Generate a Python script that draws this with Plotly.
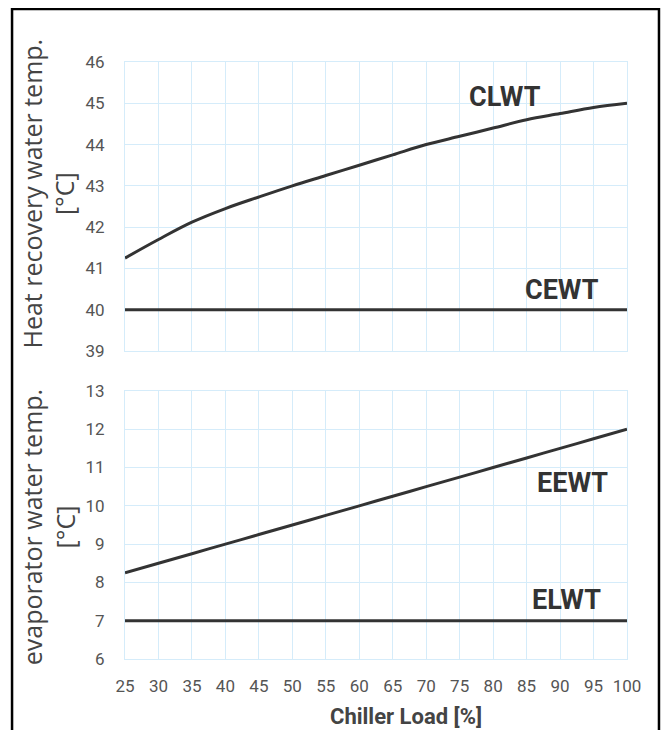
import plotly.graph_objects as go

# Chiller load [%]
load = [25, 30, 35, 40, 45, 50, 55, 60, 65, 70, 75, 80, 85, 90, 95, 100]

# heat recovery water temperatures [°C]
clwt = [41.25, 41.7, 42.12, 42.45, 42.73, 43.0, 43.25, 43.5, 43.75, 44.0, 44.2, 44.4, 44.6, 44.75, 44.9, 45.0]
cewt = [40] * len(load)

# evaporator water temperatures [°C]
eewt = [8.25, 8.5, 8.75, 9.0, 9.25, 9.5, 9.75, 10.0, 10.25, 10.5, 10.75, 11.0, 11.25, 11.5, 11.75, 12.0]
elwt = [7] * len(load)

x_ticks = list(range(25, 101, 5))

line_col = "#333333"
grid_col = "#d5ecfa"
tick_font = dict(family="Roboto, sans-serif", size=17, color="#555555")
lab_font = dict(family="Roboto, sans-serif", size=27, color="#333333")

fig = go.Figure()
for y, ax in [(clwt, "y"), (cewt, "y"), (eewt, "y2"), (elwt, "y2")]:
    fig.add_trace(go.Scatter(
        x=load, y=y, mode="lines", xaxis="x" if ax == "y" else "x2", yaxis=ax,
        line=dict(color=line_col, width=3, shape="spline"), showlegend=False, hoverinfo="skip"
    ))

axis_common = dict(showgrid=True, gridcolor=grid_col, gridwidth=1, zeroline=False,
                   showline=True, linecolor=grid_col, mirror=True, ticks="", tickfont=tick_font)

# page has an 8px body margin, so the figure is sized to fit inside it
fig.update_layout(
    width=653, height=722,
    margin=dict(l=117, r=34, t=54, b=71),
    paper_bgcolor="white", plot_bgcolor="white",
    xaxis=dict(domain=[0, 1], range=[25, 100], tickvals=x_ticks, showticklabels=False,
               anchor="y", **axis_common),
    yaxis=dict(domain=[0.516, 1], range=[39, 46], dtick=1, anchor="x", ticklabelstandoff=16, **axis_common),
    xaxis2=dict(domain=[0, 1], range=[25, 100], tickvals=x_ticks, anchor="y2",
                ticklabelstandoff=12, **axis_common),
    yaxis2=dict(domain=[0, 0.449], range=[6, 13], dtick=1, anchor="x2", ticklabelstandoff=16, **axis_common),
)

anns = [
    ("CLWT", 81.8, 45.15, "x", "y"),
    ("CEWT", 90.3, 40.48, "x", "y"),
    ("EEWT", 91.9, 10.6, "x2", "y2"),
    ("ELWT", 91.0, 7.54, "x2", "y2"),
]
for txt, ax_x, ax_y, xr, yr in anns:
    fig.add_annotation(x=ax_x, y=ax_y, xref=xr, yref=yr, text="<b>" + txt + "</b>",
                       showarrow=False, font=lab_font, xanchor="center", yanchor="middle")

title_font = dict(family="Open Sans, sans-serif", size=25, color="#444444")
fig.add_annotation(x=-0.153, y=0.78, xref="paper", yref="paper", text="Heat recovery water temp.<br>[°C]",
                   textangle=-90, showarrow=False, font=title_font, xanchor="center", yanchor="middle")
fig.add_annotation(x=-0.153, y=0.221, xref="paper", yref="paper", text="evaporator water temp.<br>[°C]",
                   textangle=-90, showarrow=False, font=title_font, xanchor="center", yanchor="middle")
fig.add_annotation(x=0.56, y=-0.097, xref="paper", yref="paper", text="<b>Chiller Load [%]</b>",
                   showarrow=False, xanchor="center", yanchor="middle",
                   font=dict(family="Roboto, sans-serif", size=22, color="#444444"))

# outer frame
fig.add_shape(type="rect", xref="paper", yref="paper", x0=-0.225, x1=1.0637, y0=-0.3, y1=1.0888,
              line=dict(color="black", width=2.5))

fig.write_html("out.html")
